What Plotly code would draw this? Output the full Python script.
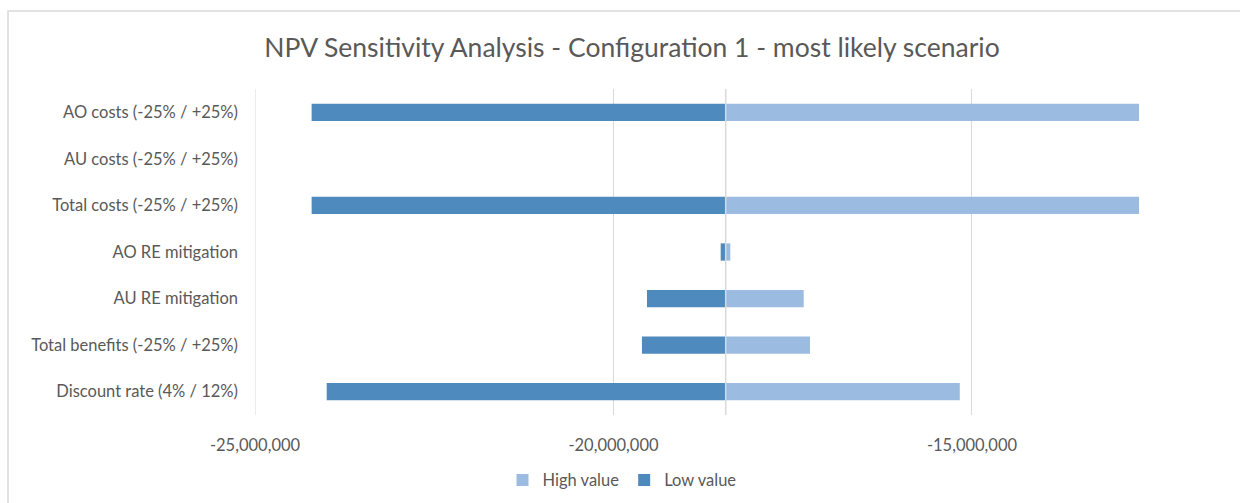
import plotly.graph_objects as go

categories = [
    "AO costs (-25% / +25%)",
    "AU costs (-25% / +25%)",
    "Total costs (-25% / +25%)",
    "AO RE mitigation",
    "AU RE mitigation",
    "Total benefits (-25% / +25%)",
    "Discount rate (4% / 12%)",
]
base_value = -18435000
low_values = [-24210000, -18435000, -24210000, -18505000, -19533000, -19603000, -24000000]
high_values = [-12670000, -18435000, -12670000, -18371000, -17347000, -17259000, -15170000]
tick_vals = [-25000000, -20000000, -15000000]
tick_text = ["-25,000,000", "-20,000,000", "-15,000,000"]

HIGH_COLOR = "#9BBBE0"
LOW_COLOR = "#4F8ABE"
TEXT = "#595959"
FONT = "Lato"

fig = go.Figure()
fig.add_trace(go.Bar(
    name="High value", y=categories,
    x=[h - base_value for h in high_values], base=base_value,
    orientation="h", marker=dict(color=HIGH_COLOR, line=dict(width=0)),
    width=0.37,
))
fig.add_trace(go.Bar(
    name="Low value", y=categories,
    x=[l - base_value for l in low_values], base=base_value,
    orientation="h", marker=dict(color=LOW_COLOR, line=dict(width=0)),
    width=0.37,
))

fig.update_layout(
    width=1240, height=503,
    barmode="overlay",
    paper_bgcolor="white", plot_bgcolor="white",
    margin=dict(l=255, r=0, t=89, b=88),
    font=dict(family=FONT, color=TEXT, size=16.5),
    title=dict(
        text="NPV Sensitivity Analysis - Configuration 1 - most likely scenario",
        x=632 / 1240, xref="paper" if False else "container", xanchor="center",
        y=0.906, yanchor="middle",
        font=dict(family=FONT, size=26.5, color=TEXT),
    ),
    legend=dict(
        orientation="h", x=(622 - 255) / 985, xanchor="center", y=-0.2, yanchor="middle",
        font=dict(family=FONT, size=16.5, color=TEXT),
        traceorder="normal", itemwidth=30,
    ),
    xaxis=dict(
        range=[-25000000, -11262000],
        tickvals=tick_vals, ticktext=tick_text,
        showgrid=True, gridcolor="#D9D9D9", gridwidth=1,
        zeroline=False, showline=False,
        ticks="", ticklabelstandoff=18,
        tickfont=dict(family=FONT, size=16.5, color=TEXT),
    ),
    yaxis=dict(
        autorange="reversed",
        showgrid=False, zeroline=False, showline=False,
        ticks="", ticklabelstandoff=16,
        tickfont=dict(family=FONT, size=16.5, color=TEXT),
    ),
    shapes=[
        dict(type="line", xref="x", yref="paper", x0=base_value, x1=base_value,
             y0=0, y1=1, line=dict(color="#D9D9D9", width=1.5), layer="above"),
        dict(type="line", xref="x", yref="paper", x0=-25000000, x1=-25000000,
             y0=0, y1=1, line=dict(color="#D9D9D9", width=1)),
        dict(type="rect", xref="paper", yref="paper", x0=-255/985 + 8/985, x1=1.1,
             y0=-0.5, y1=1 + (89 - 11) / 326, line=dict(color="#D9D9D9", width=1.5),
             fillcolor="rgba(0,0,0,0)", layer="below"),
    ],
)

fig.write_html("out.html")
